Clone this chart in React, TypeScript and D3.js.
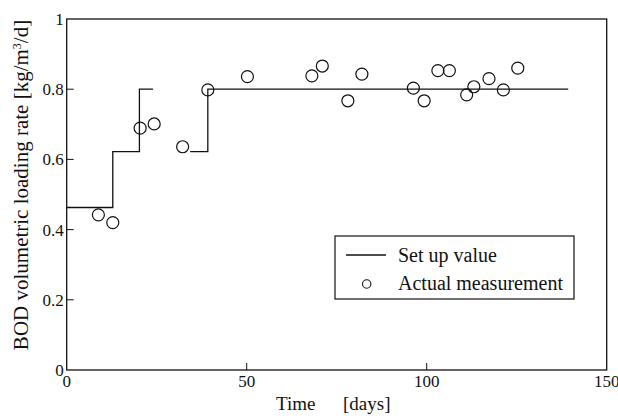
import React from 'react';
import * as d3 from 'd3';

// set-up value (stepped), two separate runs
const setupDaysA = [0, 12.8, 20.2, 24];
const setupValsA = [0.463, 0.622, 0.8, 0.8];
const setupDaysB = [34.3, 39.2, 139.3];
const setupValsB = [0.622, 0.8, 0.8];

// actual measurements
const measDays = [8.8, 12.8, 20.4, 24.3, 32.2, 39.2, 50.2, 68.1, 71, 78.1, 82, 96.3, 99.3, 103.1, 106.3, 111.1, 113.1, 117.3, 121.3, 125.3];
const measVals = [0.442, 0.42, 0.689, 0.701, 0.636, 0.798, 0.836, 0.838, 0.866, 0.767, 0.843, 0.803, 0.767, 0.853, 0.853, 0.784, 0.807, 0.83, 0.798, 0.86];

const xTicks = [0, 50, 100, 150];
const yTicks = [0, 0.2, 0.4, 0.6, 0.8, 1];

const W = 618, H = 416;
const FONT = '"Liberation Serif", "DejaVu Serif", serif';

const App: React.FC = () => {
  const x = d3.scaleLinear().domain([0, 150]).range([66.7, 606.7]);
  const y = d3.scaleLinear().domain([0, 1]).range([370, 19]);

  const stepLine = d3.line<[number, number]>()
    .x((d) => x(d[0]))
    .y((d) => y(d[1]))
    .curve(d3.curveStepAfter);

  const pathA = stepLine(setupDaysA.map((d, i) => [d, setupValsA[i]] as [number, number]));
  const pathB = stepLine(setupDaysB.map((d, i) => [d, setupValsB[i]] as [number, number]));

  return (
    <svg width={W} height={H} style={{ position: 'absolute', left: 0, top: 0, background: '#fff' }}
         fontFamily={FONT}>
      {/* frame */}
      <rect x={x(0)} y={y(1)} width={x(150) - x(0)} height={y(0) - y(1)}
            fill="none" stroke="#111" strokeWidth={1.3} />

      {/* y ticks */}
      {yTicks.map((t) => (
        <g key={'y' + t}>
          {t > 0 && t < 1 && <line x1={x(0)} x2={x(0) + 7} y1={y(t)} y2={y(t)} stroke="#111" />}
          <text x={x(0) - 3} y={y(t) + 6} textAnchor="end" fontSize={17} fill="#111">
            {t === 0 || t === 1 ? String(t) : t.toFixed(1)}
          </text>
        </g>
      ))}

      {/* x ticks */}
      {xTicks.map((t) => (
        <g key={'x' + t}>
          {t > 0 && t < 150 && <line x1={x(t)} x2={x(t)} y1={y(0)} y2={y(0) - 7} stroke="#111" />}
          <text x={x(t)} y={y(0) + 17} textAnchor="middle" fontSize={17} fill="#111">{t}</text>
        </g>
      ))}

      {/* axis labels */}
      <text x={276} y={410} fontSize={19} fill="#111">Time</text>
      <text x={343} y={410} fontSize={19} fill="#111">[days]</text>
      <text transform="translate(28, 185) rotate(-90)" textAnchor="middle"
            fontSize={21} fill="#111">
        BOD volumetric loading rate [kg/m<tspan dy={-7} fontSize={12}>3</tspan><tspan dy={7}>/d]</tspan>
      </text>

      {/* set up value */}
      <path d={pathA ?? ''} fill="none" stroke="#111" strokeWidth={1.3} />
      <path d={pathB ?? ''} fill="none" stroke="#111" strokeWidth={1.3} />

      {/* measurements */}
      {measDays.map((d, i) => (
        <circle key={'m' + i} cx={x(d)} cy={y(measVals[i])} r={6}
                fill="none" stroke="#111" strokeWidth={1.2} />
      ))}

      {/* legend */}
      <g>
        <rect x={335} y={236} width={239} height={63} fill="#fff" stroke="#111" strokeWidth={1.2} />
        <line x1={346} x2={386} y1={255} y2={255} stroke="#111" strokeWidth={1.3} />
        <text x={398} y={262} fontSize={20} fill="#111">Set up value</text>
        <circle cx={366.7} cy={284} r={4.2} fill="none" stroke="#111" strokeWidth={1.1} />
        <text x={398} y={290} fontSize={20} fill="#111">Actual measurement</text>
      </g>
    </svg>
  );
};

export default App;
